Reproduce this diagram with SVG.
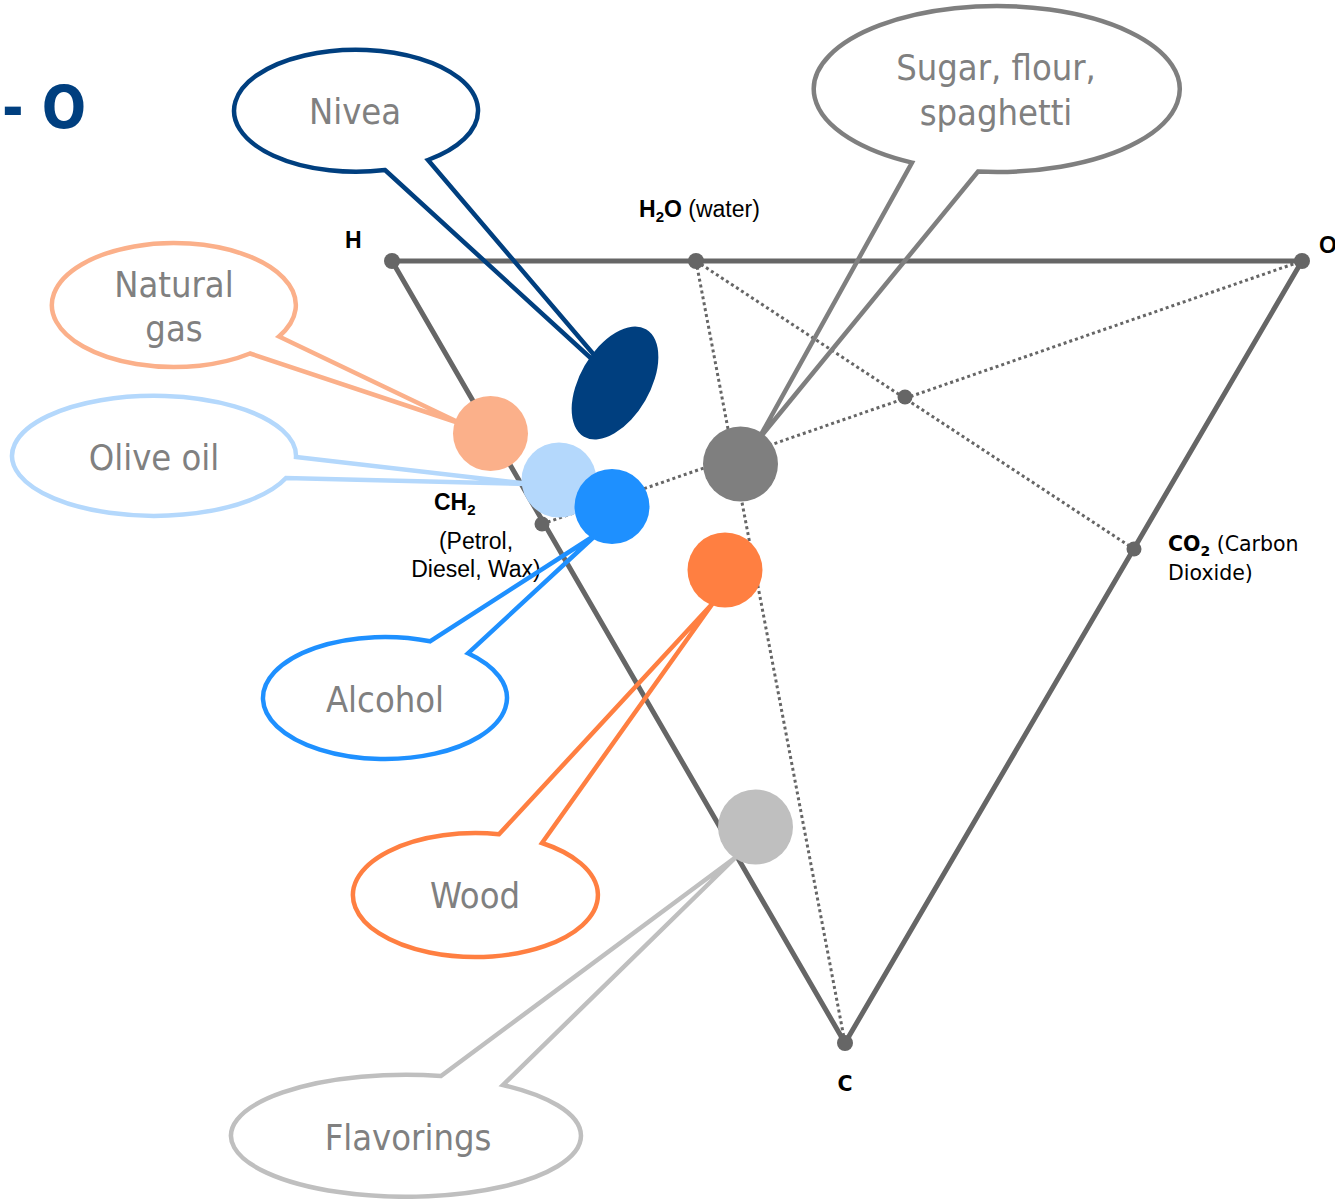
<svg xmlns="http://www.w3.org/2000/svg" width="1335" height="1199" viewBox="0 0 1335 1199">
<style>
.tri{stroke:#666;stroke-width:5;fill:none;stroke-linecap:round;stroke-linejoin:round}
.dot{stroke:#666;stroke-width:3;stroke-dasharray:3 3;fill:none}
.nd{fill:#666}
.co{fill:none;stroke-width:4.5;stroke-linejoin:miter}
.ct{font-family:"DejaVu Sans Condensed","DejaVu Sans",sans-serif;font-size:36px;fill:#808080;text-anchor:middle}
.lb{font-family:"Liberation Sans",Arial,sans-serif;font-size:23px;fill:#000}
.lb2{font-family:"DejaVu Sans",sans-serif;font-size:20.5px;fill:#000}
</style>
<text x="2" y="128" font-family="DejaVu Sans Condensed, DejaVu Sans, sans-serif" font-weight="bold" font-size="58" fill="#003f7f">- O</text>
<g id="connectors">
<path class="tri" d="M392,261 L1302,261 L845,1043 Z"/>
<line class="dot" x1="696" y1="261" x2="845" y2="1043"/>
<line class="dot" x1="696" y1="261" x2="1134" y2="549"/>
<line class="dot" x1="542" y1="524" x2="1302" y2="261"/>
</g>
<g id="vertices">
<circle class="nd" cx="392" cy="261" r="8"/>
<circle class="nd" cx="1302" cy="261" r="8"/>
<circle class="nd" cx="845" cy="1043" r="8"/>
<circle class="nd" cx="696" cy="261" r="8"/>
<circle class="nd" cx="1134" cy="549" r="7.5"/>
<circle class="nd" cx="542" cy="524" r="7.5"/>
<circle class="nd" cx="905" cy="397" r="7.5"/>
</g>
<g id="labels">
<text class="lb" x="345" y="248" font-weight="bold" font-size="20">H</text>
<text class="lb" x="1319" y="253" font-weight="bold" font-size="20">O</text>
<text class="lb2" x="845" y="1091" font-weight="bold" text-anchor="middle">C</text>
<text class="lb" x="639" y="217"><tspan font-weight="bold">H</tspan><tspan font-weight="bold" font-size="15" dy="5">2</tspan><tspan font-weight="bold" dy="-5">O</tspan> (water)</text>
<text class="lb" x="434" y="510"><tspan font-weight="bold">CH</tspan><tspan font-weight="bold" font-size="15" dy="5">2</tspan></text>
<text class="lb" x="476" y="549" text-anchor="middle">(Petrol,</text>
<text class="lb" x="476" y="577" text-anchor="middle">Diesel, Wax)</text>
<text class="lb2" x="1168" y="551"><tspan font-weight="bold">CO</tspan><tspan font-weight="bold" font-size="14" dy="5">2</tspan><tspan dy="-5"> (Carbon</tspan></text>
<text class="lb2" x="1168" y="580">Dioxide)</text>
</g>
<g id="nivea">
<path class="co" stroke="#003f7f" d="M385,170 L618,383 L428,160 A122 61 0 1 0 385,170 Z"/>
<text class="ct" x="355" y="124">Nivea</text>
</g>
<g id="natural-gas">
<path class="co" stroke="#fbb08a" d="M279,336.5 L462,424 L250,353.5 A122 62 0 1 1 279,336.5 Z"/>
<text class="ct" x="174" y="297">Natural</text>
<text class="ct" x="174" y="341">gas</text>
</g>
<g id="olive-oil">
<path class="co" stroke="#b4d8fc" d="M296,457 L530,484 L286,478 A142 60 0 1 1 296,457 Z"/>
<text class="ct" x="154" y="470" font-size="37">Olive oil</text>
</g>
<g id="alcohol">
<path class="co" stroke="#1e90ff" d="M430,641.3 L597,534 L468,653.3 A122 61 0 1 1 430,641.3 Z"/>
<text class="ct" x="385" y="712">Alcohol</text>
</g>
<g id="wood">
<path class="co" stroke="#ff7f41" d="M499,834.2 L713,603 L542,843 A122.5 62 0 1 1 499,834.2 Z"/>
<text class="ct" x="475" y="908">Wood</text>
</g>
<g id="flavorings">
<path class="co" stroke="#bfbfbf" d="M441,1076 L736,857 L503,1085 A175 61 0 1 1 441,1076 Z"/>
<text class="ct" x="408" y="1150">Flavorings</text>
</g>
<g id="sugar">
<path class="co" stroke="#7f7f7f" d="M912,162.6 L758,440 L978,171.6 A183 83 0 1 0 912,162.6 Z"/>
<text class="ct" x="996" y="80">Sugar, flour,</text>
<text class="ct" x="996" y="125">spaghetti</text>
</g>
<g id="points">
<ellipse cx="615" cy="383" rx="35" ry="62" transform="rotate(30 615 383)" fill="#003f7f"/>
<circle cx="490.5" cy="433.5" r="37.5" fill="#fbb08a"/>
<circle cx="559" cy="480" r="37.5" fill="#b4d8fc"/>
<circle cx="612" cy="506.5" r="37.5" fill="#1e90ff"/>
<circle cx="725" cy="570" r="37.5" fill="#ff7f41"/>
<circle cx="755.5" cy="827" r="37.5" fill="#bfbfbf"/>
<circle cx="740.5" cy="464" r="37.5" fill="#7f7f7f"/>
</g>
</svg>
